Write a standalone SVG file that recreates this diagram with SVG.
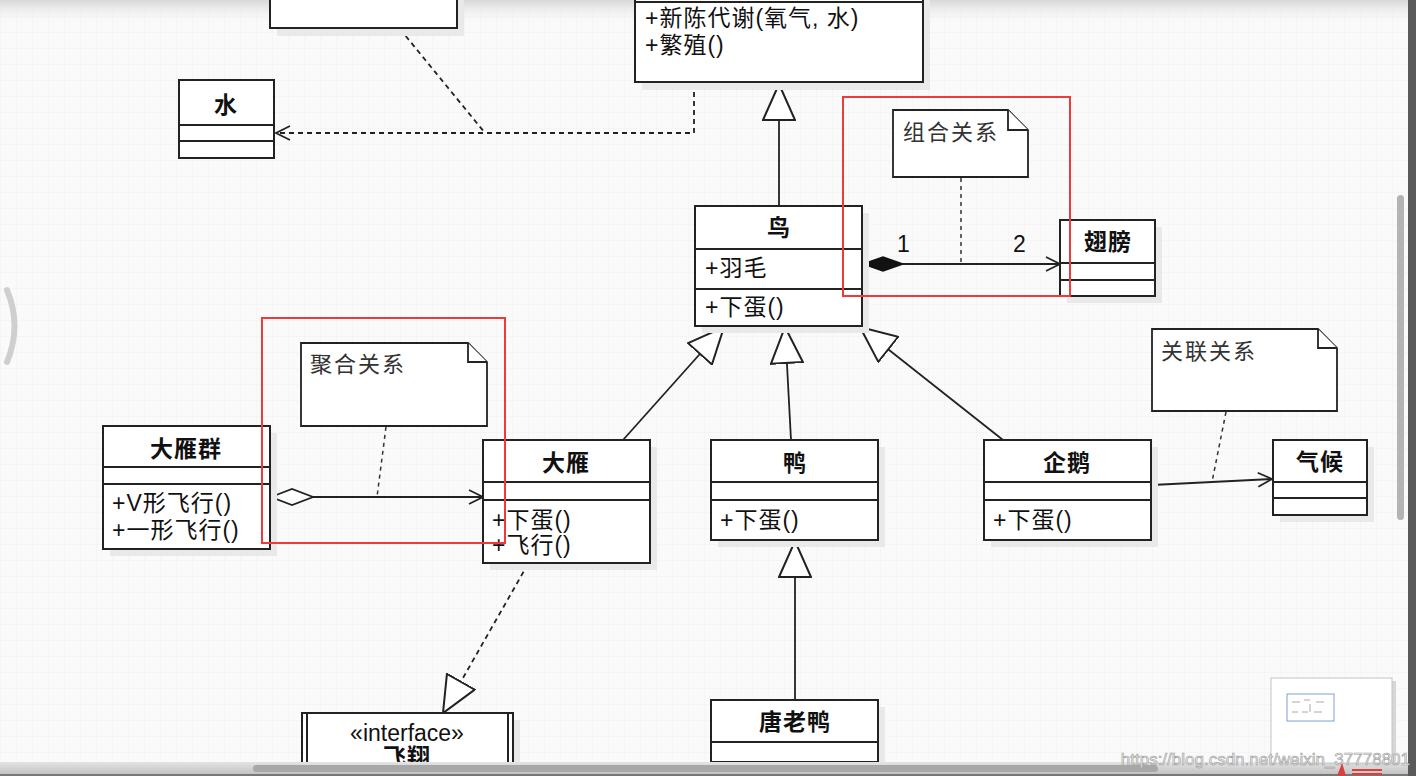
<svg xmlns="http://www.w3.org/2000/svg" width="1416" height="776" viewBox="0 0 1416 776">
<defs>
  <pattern id="grid" width="16" height="16" patternUnits="userSpaceOnUse">
    <path d="M16 0 L0 0 0 16" fill="none" stroke="#efefef" stroke-width="1"/>
  </pattern>
  <linearGradient id="topfade" x1="0" y1="0" x2="0" y2="1">
    <stop offset="0" stop-color="#d8d8d8"/>
    <stop offset="1" stop-color="#fafafa" stop-opacity="0"/>
  </linearGradient>
  <linearGradient id="hscroll" x1="0" y1="0" x2="0" y2="1">
    <stop offset="0" stop-color="#e4e4e4"/>
    <stop offset="1" stop-color="#bdbdbd"/>
  </linearGradient>
  <marker id="tri" viewBox="0 0 38 34" refX="37" refY="17" markerWidth="38" markerHeight="34" markerUnits="userSpaceOnUse" orient="auto">
    <path d="M1 1 L37 17 L1 33 Z" fill="#fff" stroke="#222" stroke-width="2" stroke-linejoin="miter"/>
  </marker>
  <marker id="open" viewBox="0 0 16 16" refX="15" refY="8" markerWidth="16" markerHeight="16" markerUnits="userSpaceOnUse" orient="auto">
    <path d="M1 1 L15 8 L1 15" fill="none" stroke="#222" stroke-width="1.8"/>
  </marker>
  <style>
    .box{fill:#fff;stroke:#222;stroke-width:2}
    .sh{fill:#e9e9e9}
    .sep{stroke:#222;stroke-width:2}
    .name{font-family:"Liberation Sans","Noto Sans CJK SC",sans-serif;font-size:23px;font-weight:bold;fill:#111;text-anchor:middle;letter-spacing:1px}
    .mem{font-family:"Liberation Sans","Noto Sans CJK SC",sans-serif;font-size:23px;fill:#111;letter-spacing:1px}
    .note{fill:#fff;stroke:#222;stroke-width:1.8}
    .ntxt{font-family:"Liberation Sans","Noto Sans CJK SC",sans-serif;font-size:22px;fill:#333;letter-spacing:2px}
    .line{fill:none;stroke:#222;stroke-width:1.8}
    .dash{fill:none;stroke:#222;stroke-width:1.8;stroke-dasharray:5 4}
    .ndash{fill:none;stroke:#333;stroke-width:1.5;stroke-dasharray:4 4}
    .red{fill:none;stroke:#f03a3a;stroke-width:2}
  </style>
</defs>

<!-- background -->
<rect width="1416" height="776" fill="#fafafa"/>
<rect width="1416" height="776" fill="url(#grid)"/>
<rect width="1416" height="26" fill="url(#topfade)"/>
<path d="M7 290 Q22 326 7 362" fill="none" stroke="#cfcfcf" stroke-width="6" stroke-linecap="round"/>

<!-- connectors -->
<g id="connectors">
  <polyline class="dash" points="694,83 694,133 276,133" marker-end="url(#open)"/>
  <line class="dash" x1="400" y1="29" x2="485" y2="133"/>
  <line class="line" x1="779" y1="206" x2="779" y2="84" marker-end="url(#tri)"/>
  <line class="line" x1="623" y1="440" x2="724" y2="327" marker-end="url(#tri)"/>
  <line class="line" x1="791" y1="440" x2="785" y2="327" marker-end="url(#tri)"/>
  <line class="line" x1="1003" y1="440" x2="860" y2="327" marker-end="url(#tri)"/>
  <line class="line" x1="795" y1="700" x2="795" y2="541" marker-end="url(#tri)"/>
  <line class="dash" x1="528" y1="564" x2="443" y2="713" marker-end="url(#tri)"/>
  <line class="line" x1="903" y1="264" x2="1060" y2="264" marker-end="url(#open)"/>
  <polygon points="863,264 883,257 903,264 883,271" fill="#111" stroke="#111" stroke-width="1.4"/>
  <line class="line" x1="313" y1="497" x2="483" y2="497" marker-end="url(#open)"/>
  <polygon points="271,497 292,489 313,497 292,505" fill="#fff" stroke="#222" stroke-width="1.8"/>
  <line class="line" x1="1152" y1="485" x2="1272" y2="479" marker-end="url(#open)"/>
  <line class="ndash" x1="961" y1="178" x2="961" y2="264"/>
  <line class="ndash" x1="386" y1="427" x2="377" y2="497"/>
  <line class="ndash" x1="1226" y1="412" x2="1212" y2="482"/>
  <text class="mem" x="904" y="252" text-anchor="middle">1</text>
  <text class="mem" x="1020" y="252" text-anchor="middle">2</text>
</g>

<!-- nodes -->
<g id="oxygen">
  <rect class="sh" x="277" y="-10" width="187" height="46"/>
  <rect class="box" x="270" y="-10" width="187" height="38"/>
</g>

<g id="animal">
  <rect class="sh" x="642" y="-40" width="288" height="130"/>
  <rect class="box" x="635" y="-40" width="288" height="122"/>
  <line class="sep" x1="635" y1="2" x2="923" y2="2"/>
  <text class="mem" x="645" y="26">+新陈代谢(氧气, 水)</text>
  <text class="mem" x="645" y="53">+繁殖()</text>
</g>

<g id="water">
  <rect class="box" x="179" y="80" width="95" height="78"/>
  <line class="sep" x1="179" y1="125" x2="274" y2="125"/>
  <line class="sep" x1="179" y1="141" x2="274" y2="141"/>
  <text class="name" x="226" y="113">水</text>
</g>

<g id="bird">
  <rect class="sh" x="702" y="213" width="167" height="120"/>
  <rect class="box" x="695" y="206" width="167" height="120"/>
  <line class="sep" x1="695" y1="249" x2="862" y2="249"/>
  <line class="sep" x1="695" y1="289" x2="862" y2="289"/>
  <text class="name" x="779" y="236">鸟</text>
  <text class="mem" x="705" y="276">+羽毛</text>
  <text class="mem" x="705" y="315">+下蛋()</text>
</g>

<g id="wing">
  <rect class="sh" x="1067" y="227" width="95" height="76"/>
  <rect class="box" x="1060" y="220" width="95" height="76"/>
  <line class="sep" x1="1060" y1="263" x2="1155" y2="263"/>
  <line class="sep" x1="1060" y1="280" x2="1155" y2="280"/>
  <text class="name" x="1108" y="250">翅膀</text>
</g>

<g id="note-composition">
  <path class="note" d="M893 110 L1008 110 L1028 130 L1028 177 L893 177 Z"/>
  <path class="note" d="M1008 110 L1008 130 L1028 130"/>
  <text class="ntxt" x="903" y="140">组合关系</text>
</g>

<g id="note-aggregation">
  <path class="note" d="M301 343 L468 343 L487 362 L487 426 L301 426 Z"/>
  <path class="note" d="M468 343 L468 362 L487 362"/>
  <text class="ntxt" x="310" y="372">聚合关系</text>
</g>

<g id="note-association">
  <path class="note" d="M1152 329 L1318 329 L1337 348 L1337 411 L1152 411 Z"/>
  <path class="note" d="M1318 329 L1318 348 L1337 348"/>
  <text class="ntxt" x="1161" y="359">关联关系</text>
</g>

<g id="geese">
  <rect class="sh" x="110" y="433" width="167" height="123"/>
  <rect class="box" x="103" y="426" width="167" height="123"/>
  <line class="sep" x1="103" y1="467" x2="270" y2="467"/>
  <line class="sep" x1="103" y1="484" x2="270" y2="484"/>
  <text class="name" x="186" y="457">大雁群</text>
  <text class="mem" x="112" y="511">+V形飞行()</text>
  <text class="mem" x="112" y="538">+一形飞行()</text>
</g>

<g id="goose">
  <rect class="sh" x="490" y="447" width="167" height="123"/>
  <rect class="box" x="483" y="440" width="167" height="123"/>
  <line class="sep" x1="483" y1="482" x2="650" y2="482"/>
  <line class="sep" x1="483" y1="500" x2="650" y2="500"/>
  <text class="name" x="566" y="471">大雁</text>
  <text class="mem" x="492" y="528">+下蛋()</text>
  <text class="mem" x="492" y="553">+飞行()</text>
</g>

<g id="duck">
  <rect class="sh" x="718" y="447" width="167" height="100"/>
  <rect class="box" x="711" y="440" width="167" height="100"/>
  <line class="sep" x1="711" y1="482" x2="878" y2="482"/>
  <line class="sep" x1="711" y1="500" x2="878" y2="500"/>
  <text class="name" x="795" y="471">鸭</text>
  <text class="mem" x="720" y="528">+下蛋()</text>
</g>

<g id="penguin">
  <rect class="sh" x="991" y="447" width="167" height="100"/>
  <rect class="box" x="984" y="440" width="167" height="100"/>
  <line class="sep" x1="984" y1="482" x2="1151" y2="482"/>
  <line class="sep" x1="984" y1="500" x2="1151" y2="500"/>
  <text class="name" x="1067" y="471">企鹅</text>
  <text class="mem" x="993" y="528">+下蛋()</text>
</g>

<g id="climate">
  <rect class="sh" x="1280" y="447" width="94" height="75"/>
  <rect class="box" x="1273" y="440" width="94" height="75"/>
  <line class="sep" x1="1273" y1="482" x2="1367" y2="482"/>
  <line class="sep" x1="1273" y1="498" x2="1367" y2="498"/>
  <text class="name" x="1320" y="470">气候</text>
</g>

<g id="donald">
  <rect class="sh" x="718" y="707" width="167" height="62"/>
  <rect class="box" x="711" y="700" width="167" height="62"/>
  <line class="sep" x1="711" y1="742" x2="878" y2="742"/>
  <text class="name" x="795" y="730">唐老鸭</text>
</g>

<g id="fly-interface">
  <rect class="sh" x="309" y="720" width="211" height="50"/>
  <rect class="box" x="302" y="713" width="211" height="60"/>
  <line class="sep" x1="307" y1="713" x2="307" y2="773"/>
  <line class="sep" x1="508" y1="713" x2="508" y2="773"/>
  <text class="mem" x="407" y="741" text-anchor="middle" style="letter-spacing:0">«interface»</text>
  <text class="name" x="407" y="765">飞翔</text>
</g>

<!-- red highlight boxes -->
<rect class="red" x="843" y="97" width="227" height="199"/>
<rect class="red" x="262" y="318" width="243" height="225"/>

<!-- UI chrome -->
<rect x="1397" y="195" width="7" height="325" rx="3.5" fill="#b4b4b4"/>
<rect x="1408" y="0" width="8" height="776" fill="#5a5a5a"/>
<rect x="0" y="762" width="1408" height="14" fill="url(#hscroll)"/>
<rect x="253" y="765" width="905" height="7" rx="3.5" fill="#a8a8a8"/>
<rect x="0" y="774" width="1408" height="2" fill="#777"/>

<g id="overview">
  <rect x="1275" y="681" width="121" height="85" fill="#d6d6d6"/>
  <rect x="1271" y="678" width="121" height="85" fill="#fff" stroke="#c4c4c4" stroke-width="1"/>
  <rect x="1287" y="694" width="47" height="27" fill="none" stroke="#7f9fd6" stroke-width="1"/>
  <path d="M1292 702 h8 M1304 700 h6 M1316 702 h8 M1292 712 h6 M1302 712 h6 M1314 712 h8 M1310 704 v8" stroke="#aaa" stroke-width="1"/>
</g>

<text x="1410" y="765" text-anchor="end" font-family="Liberation Sans, Arial, sans-serif" font-size="17" fill="#eeeeee" stroke="#9a9a9a" stroke-width="0.6">https://blog.csdn.net/weixin_37778801</text>
<path d="M1338 776 L1342 766 L1345 776 Z M1352 770 h30 M1352 774 h30" stroke="#d84040" stroke-width="2" fill="#d84040"/>
</svg>
